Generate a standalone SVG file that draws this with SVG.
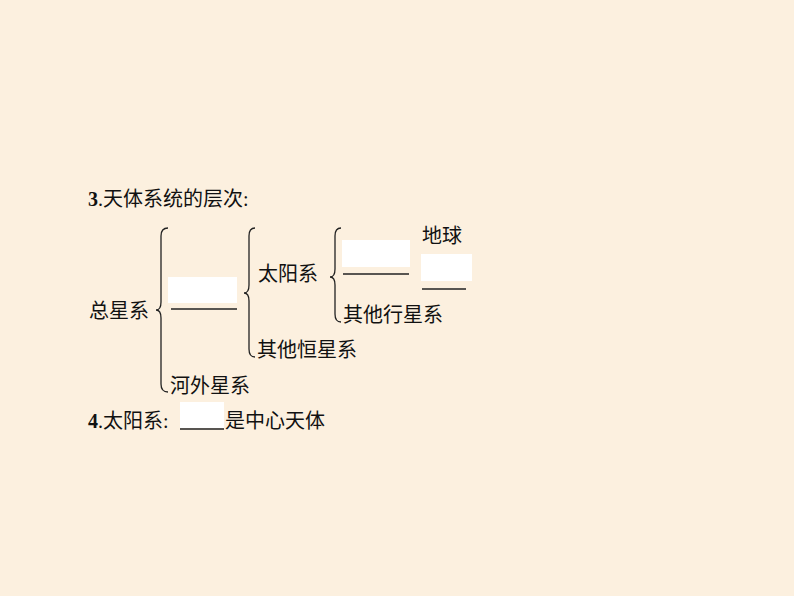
<svg xmlns="http://www.w3.org/2000/svg" width="794" height="596" viewBox="0 0 794 596">
<style>
text{font-family:"Liberation Serif","Noto Sans CJK SC",serif;font-size:20px;fill:#111}
.b{font-weight:bold}
.br{fill:none;stroke:#222;stroke-width:1.3}
.ln{stroke:#222;stroke-width:1.3}
.w{fill:#fff}
</style>
<rect width="794" height="596" fill="#fcf0df"/>
<g id="title"><text x="88" y="206"><tspan class="b">3</tspan>.天体系统的层次:</text></g>
<g id="zongxingxi"><text x="89" y="318">总星系</text></g>
<g id="blank1"><rect class="w" x="168" y="277" width="69" height="26"/><line class="ln" x1="171" y1="309" x2="237" y2="309"/></g>
<g id="taiyangxi"><text x="258" y="281">太阳系</text></g>
<g id="blank2"><rect class="w" x="342" y="240" width="68" height="27"/><line class="ln" x1="343" y1="274" x2="409" y2="274"/></g>
<g id="diqiu"><text x="422" y="243">地球</text></g>
<g id="blank3"><rect class="w" x="421" y="254" width="51" height="27"/><line class="ln" x1="422" y1="289" x2="466" y2="289"/></g>
<g id="qitaxingxingxi"><text x="343" y="322">其他行星系</text></g>
<g id="qitahengxingxi"><text x="257" y="357">其他恒星系</text></g>
<g id="hewaixingxi"><text x="170" y="393">河外星系</text></g>
<g id="line4"><rect class="w" x="180" y="402" width="44" height="26"/><line class="ln" x1="180" y1="429" x2="224" y2="429"/><text x="88" y="428"><tspan class="b">4</tspan>.太阳系:</text><text x="225" y="428">是中心天体</text></g>
<g id="connectors">
<path class="br" d="M168,228 Q161,228 161,236 L161,302 Q161,310 156,310 Q161,310 161,318 L161,384 Q161,392 168,392"/>
<path class="br" d="M255,228 Q249,228 249,236 L249,285 Q249,293 244,293 Q249,293 249,301 L249,349 Q249,357 255,357"/>
<path class="br" d="M341,228 Q335,228 335,236 L335,269 Q335,277 330,277 Q335,277 335,285 L335,314 Q335,322 341,322"/>
</g>
</svg>
